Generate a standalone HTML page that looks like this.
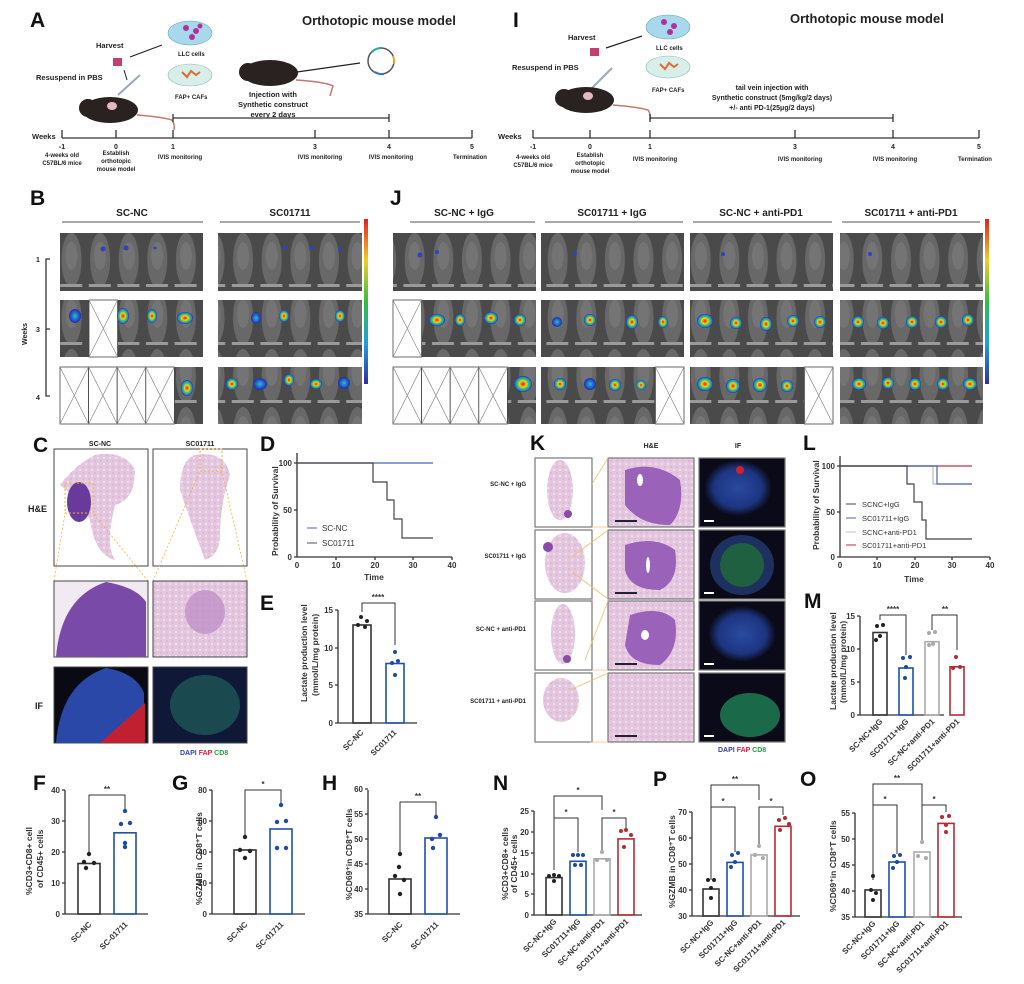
<!DOCTYPE html>
<html><head><meta charset="utf-8"><style>
body{margin:0;background:#fff}
svg{display:block;font-family:"Liberation Sans",Arial,sans-serif}
.L{font-size:21px;font-weight:bold;fill:#111}
.t{font-size:7px;font-weight:bold;fill:#222}
.s{font-size:6px;fill:#222;font-weight:bold}
.ax{stroke:#333;stroke-width:1.3;fill:none}
.tk{font-size:8px;fill:#333;font-weight:bold}
.yl{font-size:8.5px;fill:#333;font-weight:bold}
.hd{font-size:10px;font-weight:bold;fill:#222}
</style></head><body>
<svg width="1024" height="984" viewBox="0 0 1024 984">
<defs>
<pattern id="mice" width="28.6" height="58" patternUnits="userSpaceOnUse">
<rect width="28.6" height="58" fill="#4a4a4a"/>
<ellipse cx="14.3" cy="28" rx="10" ry="27" fill="#686868"/>
<ellipse cx="14.3" cy="24" rx="6" ry="14" fill="#747474"/>
<rect x="3" y="52" width="22" height="3" fill="#9a9a9a"/>
</pattern>
<linearGradient id="cb" x1="0" y1="0" x2="0" y2="1">
<stop offset="0" stop-color="#e02020"/><stop offset=".25" stop-color="#f0d020"/><stop offset=".5" stop-color="#30c040"/><stop offset=".75" stop-color="#20a0e0"/><stop offset="1" stop-color="#3030a0"/>
</linearGradient>
<radialGradient id="blob"><stop offset="0" stop-color="#e02020"/><stop offset=".4" stop-color="#f0d020"/><stop offset=".65" stop-color="#30c060"/><stop offset=".85" stop-color="#2080e0"/><stop offset="1" stop-color="#2a2aa0"/></radialGradient>
<radialGradient id="blobb"><stop offset="0" stop-color="#30c0c0"/><stop offset=".6" stop-color="#2060d0"/><stop offset="1" stop-color="#2a2aa0"/></radialGradient>
<pattern id="he" width="6" height="6" patternUnits="userSpaceOnUse"><rect width="6" height="6" fill="#e4c6df"/><circle cx="2" cy="2" r="1.2" fill="#eedfeb"/><circle cx="5" cy="5" r="0.7" fill="#cfa6cc"/></pattern>
<radialGradient id="ifg"><stop offset="0" stop-color="#2a4aa0"/><stop offset=".7" stop-color="#1d3580"/><stop offset="1" stop-color="#0a0a18"/></radialGradient>
<g id="x"><rect width="28.6" height="57" fill="#fff" stroke="#444" stroke-width=".8"/><path d="M0 0L28.6 57M28.6 0L0 57" stroke="#888" stroke-width=".7"/></g>
</defs>

<!-- ===== A ===== -->
<text class="L" x="30" y="27">A</text>
<text x="302" y="25" font-size="13" font-weight="bold" fill="#222">Orthotopic  mouse model</text>
<ellipse cx="190" cy="33" rx="22" ry="12" fill="#a8d8ec" stroke="#6aa" stroke-width=".6"/>
<circle cx="186" cy="28" r="3" fill="#b0309a"/><circle cx="196" cy="31" r="3" fill="#b0309a"/><circle cx="192" cy="37" r="3" fill="#b0309a"/><circle cx="200" cy="26" r="2.5" fill="#b0309a"/>
<text class="s" x="178" y="56">LLC cells</text>
<ellipse cx="190" cy="75" rx="22" ry="11" fill="#d8eee8" stroke="#8bb" stroke-width=".6"/>
<path d="M182 72l5 5 4-6 5 4 4-3" stroke="#e06a30" stroke-width="2" fill="none"/>
<text class="s" x="175" y="99">FAP+ CAFs</text>
<text x="96" y="48" font-size="7.5" font-weight="bold" fill="#222">Harvest</text>
<text x="36" y="80" font-size="7.5" font-weight="bold" fill="#222">Resuspend in PBS</text>
<rect x="113" y="58" width="9" height="8" fill="#c04070"/>
<line x1="130" y1="57" x2="162" y2="45" stroke="#222" stroke-width="1.2"/>
<line x1="124" y1="70" x2="127" y2="80" stroke="#222"/>
<line x1="118" y1="95" x2="140" y2="75" stroke="#9ab" stroke-width="2"/>
<ellipse cx="110" cy="110" rx="28" ry="13" fill="#2a2220"/><circle cx="88" cy="108" r="9" fill="#2a2220"/><ellipse cx="112" cy="106" rx="5" ry="4" fill="#e8b8c0"/>
<path d="M137 115q25 2 35 5q3 4 2 10" stroke="#c47870" stroke-width="1.5" fill="none"/>
<ellipse cx="270" cy="73" rx="28" ry="13" fill="#2a2220"/><circle cx="248" cy="72" r="9" fill="#2a2220"/>
<path d="M296 80q30 2 37 6q-2 6 -3 10" stroke="#c47870" stroke-width="1.5" fill="none"/>
<line x1="297" y1="72" x2="360" y2="63" stroke="#222" stroke-width="1.2"/>
<circle cx="381" cy="61" r="13" fill="none" stroke="#555" stroke-width="1.5"/>
<path d="M372 52a13 13 0 0 1 10-4" stroke="#2a9" stroke-width="2" fill="none"/><path d="M393 56a13 13 0 0 1 1 8" stroke="#da3" stroke-width="2" fill="none"/><path d="M384 74a13 13 0 0 1-9-2" stroke="#37c" stroke-width="2" fill="none"/>
<text x="273" y="97" font-size="7.5" font-weight="bold" fill="#222" text-anchor="middle">Injection with</text>
<text x="273" y="107" font-size="7.5" font-weight="bold" fill="#222" text-anchor="middle">Synthetic construct</text>
<text x="273" y="117" font-size="7.5" font-weight="bold" fill="#222" text-anchor="middle">every 2 days</text>
<path class="ax" d="M173 118H389M173 114v8M389 114v8"/>
<text x="32" y="139" font-size="7.5" font-weight="bold" fill="#222">Weeks</text>
<path class="ax" d="M62 138H472M62 130v8M116 130v8M173 130v8M315 130v8M389 130v8M472 130v8"/>
<g class="t" text-anchor="middle"><text x="62" y="149">-1</text><text x="116" y="149">0</text><text x="173" y="149">1</text><text x="315" y="149">3</text><text x="389" y="149">4</text><text x="472" y="149">5</text></g>
<g class="s" text-anchor="middle"><text x="62" y="157">4-weeks old</text><text x="62" y="165">C57BL/6 mice</text><text x="116" y="155">Establish</text><text x="116" y="163">orthotopic</text><text x="116" y="171">mouse model</text><text x="180" y="159">IVIS monitoring</text><text x="320" y="159">IVIS monitoring</text><text x="391" y="159">IVIS monitoring</text><text x="470" y="159">Termination</text></g>

<!-- ===== I ===== -->
<text class="L" x="513" y="27">I</text>
<text x="790" y="23" font-size="13" font-weight="bold" fill="#222">Orthotopic  mouse model</text>
<ellipse cx="668" cy="27" rx="22" ry="12" fill="#a8d8ec" stroke="#6aa" stroke-width=".6"/>
<circle cx="664" cy="22" r="3" fill="#b0309a"/><circle cx="674" cy="26" r="3" fill="#b0309a"/><circle cx="670" cy="32" r="3" fill="#b0309a"/>
<text class="s" x="656" y="50">LLC cells</text>
<ellipse cx="668" cy="67" rx="22" ry="11" fill="#d8eee8" stroke="#8bb" stroke-width=".6"/>
<path d="M660 64l5 5 4-6 5 4 4-3" stroke="#e06a30" stroke-width="2" fill="none"/>
<text class="s" x="652" y="92">FAP+ CAFs</text>
<text x="568" y="40" font-size="7.5" font-weight="bold" fill="#222">Harvest</text>
<text x="512" y="70" font-size="7.5" font-weight="bold" fill="#222">Resuspend in PBS</text>
<rect x="590" y="48" width="9" height="8" fill="#c04070"/>
<line x1="606" y1="48" x2="642" y2="36" stroke="#222" stroke-width="1.2"/>
<line x1="592" y1="88" x2="612" y2="68" stroke="#9ab" stroke-width="2"/>
<ellipse cx="586" cy="100" rx="28" ry="13" fill="#2a2220"/><circle cx="564" cy="98" r="9" fill="#2a2220"/><ellipse cx="588" cy="96" rx="5" ry="4" fill="#e8b8c0"/>
<path d="M613 105q25 2 35 5q3 4 2 10" stroke="#c47870" stroke-width="1.5" fill="none"/>
<g font-size="7" font-weight="bold" fill="#222" text-anchor="middle"><text x="772" y="90">tail vein injection with</text><text x="772" y="100">Synthetic construct (5mg/kg/2 days)</text><text x="772" y="110">+/- anti PD-1(25μg/2 days)</text></g>
<path class="ax" d="M650 118H893M650 114v8M893 114v8"/>
<text x="498" y="139" font-size="7.5" font-weight="bold" fill="#222">Weeks</text>
<path class="ax" d="M533 138H979M533 130v8M590 130v8M650 130v8M795 130v8M893 130v8M979 130v8"/>
<g class="t" text-anchor="middle"><text x="533" y="149">-1</text><text x="590" y="149">0</text><text x="650" y="149">1</text><text x="795" y="149">3</text><text x="893" y="149">4</text><text x="979" y="149">5</text></g>
<g class="s" text-anchor="middle"><text x="533" y="159">4-weeks old</text><text x="533" y="167">C57BL/6 mice</text><text x="590" y="157">Establish</text><text x="590" y="165">orthotopic</text><text x="590" y="173">mouse model</text><text x="655" y="161">IVIS monitoring</text><text x="800" y="161">IVIS monitoring</text><text x="895" y="161">IVIS monitoring</text><text x="975" y="161">Termination</text></g>

<!-- ===== B ===== -->
<text class="L" x="30" y="205">B</text>
<text class="hd" x="132" y="216" text-anchor="middle">SC-NC</text><line x1="62" y1="222" x2="203" y2="222" stroke="#555"/>
<text class="hd" x="290" y="216" text-anchor="middle">SC01711</text><line x1="220" y1="222" x2="360" y2="222" stroke="#555"/>
<rect x="364" y="219" width="4" height="165" fill="url(#cb)"/>
<rect x="60" y="233" width="143" height="58" fill="url(#mice)"/>
<rect x="60" y="300" width="143" height="57" fill="url(#mice)"/>
<rect x="60" y="367" width="143" height="57" fill="url(#mice)"/>
<rect x="218" y="233" width="144" height="58" fill="url(#mice)"/>
<rect x="218" y="300" width="144" height="57" fill="url(#mice)"/>
<rect x="218" y="367" width="144" height="57" fill="url(#mice)"/>
<use href="#x" x="89" y="300"/>
<use href="#x" x="60" y="367"/><use href="#x" x="88.6" y="367"/><use href="#x" x="117.2" y="367"/><use href="#x" x="145.8" y="367"/>
<g fill="url(#blob)"><ellipse cx="75" cy="316" rx="6" ry="7" fill="url(#blobb)"/><ellipse cx="123" cy="316" rx="6" ry="8"/><ellipse cx="152" cy="316" rx="5" ry="7"/><ellipse cx="185" cy="318" rx="8" ry="6"/><ellipse cx="187" cy="388" rx="6" ry="8"/>
<ellipse cx="256" cy="318" rx="5" ry="6" fill="url(#blobb)"/><ellipse cx="284" cy="316" rx="5" ry="6"/><ellipse cx="340" cy="316" rx="5" ry="6"/>
<ellipse cx="232" cy="384" rx="6" ry="6"/><ellipse cx="260" cy="384" rx="7" ry="6" fill="url(#blobb)"/><ellipse cx="289" cy="380" rx="5" ry="6"/><ellipse cx="316" cy="384" rx="6" ry="5"/><ellipse cx="344" cy="383" rx="6" ry="6" fill="url(#blobb)"/></g>
<g fill="#3040c0"><circle cx="103" cy="249" r="2.5"/><circle cx="126" cy="248" r="2.5"/><circle cx="155" cy="248" r="1.5"/><circle cx="285" cy="248" r="2"/><circle cx="311" cy="248" r="2"/><circle cx="340" cy="249" r="2"/></g>
<path class="ax" d="M50 259H46V396H50M46 329H50" stroke-width="1"/>
<g class="t" font-size="9"><text x="36" y="262">1</text><text x="36" y="332">3</text><text x="36" y="400">4</text></g>
<text x="27" y="345" class="t" font-size="9" transform="rotate(-90 27 345)">Weeks</text>

<!-- ===== J ===== -->
<text class="L" x="390" y="205">J</text>
<g class="hd" text-anchor="middle"><text x="464" y="216">SC-NC + IgG</text><text x="612" y="216">SC01711 + IgG</text><text x="761" y="216">SC-NC + anti-PD1</text><text x="911" y="216">SC01711 + anti-PD1</text></g>
<g stroke="#555"><line x1="410" y1="222" x2="535" y2="222"/><line x1="545" y1="222" x2="683" y2="222"/><line x1="693" y1="222" x2="832" y2="222"/><line x1="842" y1="222" x2="980" y2="222"/></g>
<rect x="985" y="219" width="4" height="165" fill="url(#cb)"/>
<g fill="url(#mice)">
<rect x="393" y="233" width="143" height="58"/><rect x="393" y="300" width="143" height="57"/><rect x="393" y="367" width="143" height="57"/>
<rect x="541" y="233" width="143" height="58"/><rect x="541" y="300" width="143" height="57"/><rect x="541" y="367" width="143" height="57"/>
<rect x="690" y="233" width="143" height="58"/><rect x="690" y="300" width="143" height="57"/><rect x="690" y="367" width="143" height="57"/>
<rect x="840" y="233" width="143" height="58"/><rect x="840" y="300" width="143" height="57"/><rect x="840" y="367" width="143" height="57"/></g>
<use href="#x" x="393" y="300"/>
<use href="#x" x="393" y="367"/><use href="#x" x="421.6" y="367"/><use href="#x" x="450.2" y="367"/><use href="#x" x="478.8" y="367"/>
<use href="#x" x="655.4" y="367"/><use href="#x" x="804.4" y="367"/>
<g fill="url(#blob)">
<ellipse cx="437" cy="320" rx="8" ry="6"/><ellipse cx="460" cy="320" rx="5" ry="6"/><ellipse cx="491" cy="318" rx="7" ry="6"/><ellipse cx="520" cy="320" rx="6" ry="6"/><ellipse cx="523" cy="384" rx="9" ry="8"/>
<ellipse cx="557" cy="322" rx="5" ry="5" fill="url(#blobb)"/><ellipse cx="590" cy="320" rx="6" ry="6"/><ellipse cx="632" cy="322" rx="6" ry="7"/><ellipse cx="663" cy="322" rx="5" ry="6"/>
<ellipse cx="560" cy="384" rx="6" ry="6"/><ellipse cx="590" cy="384" rx="6" ry="6" fill="url(#blobb)"/><ellipse cx="615" cy="385" rx="6" ry="6"/><ellipse cx="641" cy="385" rx="5" ry="5"/>
<ellipse cx="705" cy="321" rx="8" ry="7"/><ellipse cx="736" cy="323" rx="6" ry="6"/><ellipse cx="766" cy="324" rx="6" ry="7"/><ellipse cx="793" cy="321" rx="6" ry="6"/><ellipse cx="820" cy="322" rx="6" ry="6"/>
<ellipse cx="705" cy="384" rx="8" ry="7"/><ellipse cx="733" cy="386" rx="7" ry="7"/><ellipse cx="760" cy="385" rx="7" ry="7"/><ellipse cx="787" cy="386" rx="6" ry="6"/>
<ellipse cx="858" cy="322" rx="6" ry="6"/><ellipse cx="883" cy="323" rx="6" ry="6"/><ellipse cx="912" cy="322" rx="6" ry="6"/><ellipse cx="941" cy="322" rx="6" ry="6"/><ellipse cx="968" cy="320" rx="6" ry="6"/>
<ellipse cx="859" cy="384" rx="7" ry="6"/><ellipse cx="888" cy="383" rx="6" ry="6"/><ellipse cx="915" cy="384" rx="6" ry="6"/><ellipse cx="943" cy="384" rx="6" ry="6"/><ellipse cx="970" cy="384" rx="7" ry="6"/></g>
<g fill="#3040c0"><circle cx="420" cy="255" r="2.5"/><circle cx="437" cy="252" r="2"/><circle cx="575" cy="254" r="2"/><circle cx="723" cy="254" r="2"/><circle cx="870" cy="254" r="2"/></g>

<!-- ===== C ===== -->
<text class="L" x="33" y="452">C</text>
<text x="100" y="446" class="t" text-anchor="middle">SC-NC</text><text x="200" y="446" class="t" text-anchor="middle">SC01711</text>
<text x="28" y="512" font-size="9" font-weight="bold" fill="#222">H&amp;E</text>
<text x="35" y="709" font-size="9" font-weight="bold" fill="#222">IF</text>
<rect x="54" y="449" width="94" height="117" fill="#fff" stroke="#444"/>
<rect x="153" y="449" width="94" height="117" fill="#fff" stroke="#444"/>
<path d="M95 455q30-5 40 15q0 30-20 35q-10 40 0 55q-20-5-25-40q-10-20-30-35q15-20 35-30z" fill="url(#he)"/>
<ellipse cx="79" cy="502" rx="12" ry="20" fill="#6a3a9a"/>
<path d="M195 455q30-5 35 20q-10 30-10 60q0 20-15 25q-15-40-25-70q0-30 15-35z" fill="url(#he)"/>
<rect x="65" y="483" width="28" height="30" fill="none" stroke="#f0b040" stroke-dasharray="2 2"/>
<rect x="200" y="449" width="22" height="22" fill="none" stroke="#f0b040" stroke-dasharray="2 2"/>
<path d="M54 581L65 513M148 581L93 513M153 581L200 471M247 581L222 471" stroke="#f0b040" stroke-dasharray="2 2" stroke-width=".8"/>
<rect x="54" y="581" width="94" height="76" fill="#f2eaf2" stroke="#444"/>
<path d="M56 657q5-60 50-75q30 5 40 20v55z" fill="#7a4aa8"/>
<rect x="153" y="581" width="94" height="76" fill="url(#he)" stroke="#444"/>
<ellipse cx="205" cy="612" rx="20" ry="22" fill="#c090c8" opacity=".8"/>
<rect x="54" y="667" width="94" height="76" fill="#0a0a14" stroke="#444"/>
<path d="M56 743q5-60 50-75q30 5 38 25v50z" fill="#2a48a8"/><path d="M100 743l45-40v40z" fill="#c02030"/>
<rect x="153" y="667" width="94" height="76" fill="#101838" stroke="#444"/>
<ellipse cx="205" cy="705" rx="35" ry="30" fill="#1a4a50"/>
<text x="180" y="755" font-size="7" font-weight="bold"><tspan fill="#3040b0">DAPI</tspan> <tspan fill="#e02040">FAP</tspan> <tspan fill="#20a040">CD8</tspan></text>

<!-- ===== D ===== -->
<text class="L" x="260" y="451">D</text>
<path class="ax" d="M297 453V557H452M294 463h3M294 510h3M294 557h3M336 557v3M375 557v3M413 557v3M452 557v3"/>
<g class="tk" text-anchor="end"><text x="292" y="466">100</text><text x="292" y="513">50</text><text x="292" y="560">0</text></g>
<g class="tk" text-anchor="middle"><text x="297" y="568">0</text><text x="336" y="568">10</text><text x="375" y="568">20</text><text x="413" y="568">30</text><text x="452" y="568">40</text></g>
<text x="374" y="580" class="yl" text-anchor="middle">Time</text>
<text x="278" y="556" class="yl" transform="rotate(-90 278 556)">Probability of Survival</text>
<path d="M297 463H433" stroke="#4a64b0" stroke-width="1.2" fill="none"/>
<path d="M297 463H373V482H387V500H394V519H402V538H433" stroke="#444" stroke-width="1.2" fill="none"/>
<line x1="307" y1="528" x2="317" y2="528" stroke="#4a64b0"/><text x="322" y="531" font-size="8" fill="#333">SC-NC</text>
<line x1="307" y1="543" x2="317" y2="543" stroke="#555"/><text x="322" y="546" font-size="8" fill="#333">SC01711</text>

<!-- ===== E ===== -->
<text class="L" x="260" y="610">E</text>
<path class="ax" d="M338 610V723H417M335 610h3M335 648h3M335 685h3M335 723h3"/>
<g class="tk" text-anchor="end"><text x="333" y="613">15</text><text x="333" y="651">10</text><text x="333" y="688">5</text><text x="333" y="726">0</text></g>
<rect x="353" y="625" width="18" height="98" fill="none" stroke="#333" stroke-width="1.6"/>
<rect x="386" y="663.5" width="18" height="59.5" fill="none" stroke="#2050a8" stroke-width="1.6"/>
<path d="M362 612V603H395V645" stroke="#333" fill="none"/><text x="378" y="600" class="tk" text-anchor="middle">****</text>
<g fill="#222"><circle cx="361" cy="617" r="2"/><circle cx="358" cy="625" r="2"/><circle cx="365" cy="627" r="2"/><circle cx="367" cy="621" r="2"/></g>
<g fill="#1f4aa0"><circle cx="395" cy="652" r="2"/><circle cx="392" cy="663" r="2"/><circle cx="398" cy="661" r="2"/><circle cx="395" cy="675" r="2"/></g>
<text x="307" y="702" class="yl" transform="rotate(-90 307 702)">Lactate production level</text>
<text x="318" y="696" class="yl" transform="rotate(-90 318 696)">(mmol/L/mg protein)</text>
<g class="tk" text-anchor="end"><text x="364" y="733" transform="rotate(-45 364 733)">SC-NC</text><text x="397" y="733" transform="rotate(-45 397 733)">SC01711</text></g>

<!-- ===== F ===== -->
<text class="L" x="33" y="790">F</text>
<path class="ax" d="M65 790V914H148M62 790h3M62 821h3M62 852h3M62 883h3M62 914h3"/>
<g class="tk" text-anchor="end"><text x="60" y="793">40</text><text x="60" y="824">30</text><text x="60" y="855">20</text><text x="60" y="886">10</text><text x="60" y="917">0</text></g>
<rect x="78" y="863.5" width="22" height="50.5" fill="none" stroke="#333" stroke-width="1.6"/>
<rect x="114" y="832.8" width="22" height="81.2" fill="none" stroke="#2050a8" stroke-width="1.6"/>
<path d="M89 852V795H125V812" stroke="#333" fill="none"/><text x="107" y="792" class="tk" text-anchor="middle">**</text>
<g fill="#222"><circle cx="89" cy="854" r="2.2"/><circle cx="84" cy="862" r="2.2"/><circle cx="94" cy="863" r="2.2"/><circle cx="86" cy="868" r="2.2"/></g>
<g fill="#1f4aa0"><circle cx="125" cy="811" r="2.2"/><circle cx="121" cy="824" r="2.2"/><circle cx="130" cy="823" r="2.2"/><circle cx="125" cy="843" r="2.2"/><circle cx="125" cy="847" r="2.2"/></g>
<text x="32" y="895" class="yl" transform="rotate(-90 32 895)">%CD3+CD8+ cell</text>
<text x="43" y="888" class="yl" transform="rotate(-90 43 888)">of CD45+ cells</text>
<g class="tk" text-anchor="end"><text x="92" y="925" transform="rotate(-45 92 925)">SC-NC</text><text x="128" y="925" transform="rotate(-45 128 925)">SC-01711</text></g>

<!-- ===== G ===== -->
<text class="L" x="172" y="790">G</text>
<path class="ax" d="M212 790V914H305M209 790h3M209 821h3M209 852h3M209 883h3M209 914h3"/>
<g class="tk" text-anchor="end"><text x="207" y="793">80</text><text x="207" y="824">60</text><text x="207" y="855">40</text><text x="207" y="886">20</text><text x="207" y="917">0</text></g>
<rect x="234" y="850" width="22" height="64" fill="none" stroke="#333" stroke-width="1.6"/>
<rect x="270" y="829" width="22" height="85" fill="none" stroke="#2050a8" stroke-width="1.6"/>
<path d="M245 838V790H281V805" stroke="#333" fill="none"/><text x="263" y="787" class="tk" text-anchor="middle">*</text>
<g fill="#222"><circle cx="245" cy="837" r="2.2"/><circle cx="240" cy="850" r="2.2"/><circle cx="250" cy="851" r="2.2"/><circle cx="245" cy="858" r="2.2"/></g>
<g fill="#1f4aa0"><circle cx="281" cy="805" r="2.2"/><circle cx="277" cy="822" r="2.2"/><circle cx="286" cy="821" r="2.2"/><circle cx="277" cy="848" r="2.2"/><circle cx="286" cy="848" r="2.2"/></g>
<text x="202" y="905" class="yl" transform="rotate(-90 202 905)">%GZMB in CD8⁺T cells</text>
<g class="tk" text-anchor="end"><text x="248" y="925" transform="rotate(-45 248 925)">SC-NC</text><text x="284" y="925" transform="rotate(-45 284 925)">SC-01711</text></g>

<!-- ===== H ===== -->
<text class="L" x="322" y="790">H</text>
<path class="ax" d="M368 790V914H460M365 789h3M365 814h3M365 839h3M365 864h3M365 889h3M365 914h3"/>
<g class="tk" text-anchor="end"><text x="363" y="792">60</text><text x="363" y="817">55</text><text x="363" y="842">50</text><text x="363" y="867">45</text><text x="363" y="892">40</text><text x="363" y="917">35</text></g>
<rect x="389" y="879" width="22" height="35" fill="none" stroke="#333" stroke-width="1.6"/>
<rect x="425" y="838" width="22" height="76" fill="none" stroke="#2050a8" stroke-width="1.6"/>
<path d="M400 855V802H436V815" stroke="#333" fill="none"/><text x="418" y="799" class="tk" text-anchor="middle">**</text>
<g fill="#222"><circle cx="400" cy="854" r="2.2"/><circle cx="399" cy="867" r="2.2"/><circle cx="395" cy="876" r="2.2"/><circle cx="404" cy="880" r="2.2"/><circle cx="400" cy="894" r="2.2"/></g>
<g fill="#1f4aa0"><circle cx="436" cy="817" r="2.2"/><circle cx="432" cy="839" r="2.2"/><circle cx="440" cy="835" r="2.2"/><circle cx="433" cy="848" r="2.2"/></g>
<text x="352" y="900" class="yl" transform="rotate(-90 352 900)">%CD69⁺in CD8⁺T cells</text>
<g class="tk" text-anchor="end"><text x="403" y="925" transform="rotate(-45 403 925)">SC-NC</text><text x="439" y="925" transform="rotate(-45 439 925)">SC-01711</text></g>

<!-- ===== K ===== -->
<text class="L" x="530" y="450">K</text>
<text x="651" y="448" class="t" font-size="8" text-anchor="middle">H&amp;E</text><text x="738" y="448" class="t" font-size="8" text-anchor="middle">IF</text>
<g class="s" text-anchor="end"><text x="526" y="486">SC-NC + IgG</text><text x="526" y="558">SC01711 + IgG</text><text x="526" y="631">SC-NC + anti-PD1</text><text x="526" y="703">SC01711 + anti-PD1</text></g>
<g stroke="#777" stroke-width="1.2">
<rect x="535" y="458" width="57" height="69" fill="#fff"/><rect x="535" y="530" width="57" height="69" fill="#fff"/><rect x="535" y="601" width="57" height="69" fill="#fff"/><rect x="535" y="673" width="57" height="69" fill="#fff"/>
<rect x="608" y="458" width="86" height="69" fill="url(#he)"/><rect x="608" y="530" width="86" height="69" fill="url(#he)"/><rect x="608" y="601" width="86" height="69" fill="url(#he)"/><rect x="608" y="673" width="86" height="69" fill="url(#he)"/>
<rect x="699" y="458" width="86" height="69" fill="#0a0a18"/><rect x="699" y="530" width="86" height="69" fill="#0a0a18"/><rect x="699" y="601" width="86" height="69" fill="#0a0a18"/><rect x="699" y="673" width="86" height="69" fill="#0a0a18"/></g>
<g fill="url(#he)"><ellipse cx="560" cy="490" rx="13" ry="30"/><ellipse cx="565" cy="563" rx="20" ry="30"/><ellipse cx="563" cy="634" rx="12" ry="30"/><ellipse cx="561" cy="700" rx="18" ry="22"/></g>
<g fill="#8a4aa8"><circle cx="568" cy="514" r="4"/><circle cx="548" cy="547" r="5"/><circle cx="567" cy="659" r="4"/></g>
<g fill="#9a62b8"><path d="M625 470q30-10 55 10q5 30-10 45q-30 0-45-20z"/><path d="M625 545q30-10 50 5q5 30-15 40q-30 0-35-20z"/><path d="M630 615q30-10 45 5q5 30-15 45q-30 0-35-20z"/></g>
<g fill="#fff"><ellipse cx="640" cy="480" rx="3" ry="6"/><ellipse cx="648" cy="565" rx="2" ry="8"/><ellipse cx="645" cy="635" rx="4" ry="5"/></g>
<g fill="#223" ><rect x="615" y="520" width="22" height="2"/><rect x="615" y="592" width="22" height="2"/><rect x="615" y="663" width="22" height="2"/><rect x="615" y="735" width="22" height="2"/></g>
<ellipse cx="738" cy="488" rx="34" ry="28" fill="url(#ifg)"/><circle cx="740" cy="470" r="4" fill="#d02030"/>
<ellipse cx="742" cy="565" rx="32" ry="30" fill="#1e3060"/><ellipse cx="742" cy="565" rx="22" ry="22" fill="#1f6040"/>
<ellipse cx="742" cy="634" rx="34" ry="28" fill="url(#ifg)"/>
<ellipse cx="750" cy="715" rx="30" ry="22" fill="#1a6a4a"/>
<g fill="#fff"><rect x="704" y="520" width="10" height="2"/><rect x="704" y="592" width="10" height="2"/><rect x="704" y="663" width="10" height="2"/><rect x="704" y="735" width="10" height="2"/></g>
<path d="M592 484L608 458M592 527L608 527M572 557L608 530M572 572L608 599M585 660L608 601M592 670L608 670M570 690L608 673M590 742L608 742" stroke="#f0c070" stroke-width=".8"/>
<text x="718" y="752" font-size="7" font-weight="bold"><tspan fill="#3040b0">DAPI</tspan> <tspan fill="#e02040">FAP</tspan> <tspan fill="#20a040">CD8</tspan></text>

<!-- ===== L ===== -->
<text class="L" x="803" y="450">L</text>
<path class="ax" d="M840 456V557H990M837 466h3M837 512h3M837 557h3M877 557v3M915 557v3M952 557v3M990 557v3"/>
<g class="tk" text-anchor="end"><text x="835" y="469">100</text><text x="835" y="515">50</text><text x="835" y="560">0</text></g>
<g class="tk" text-anchor="middle"><text x="840" y="568">0</text><text x="877" y="568">10</text><text x="915" y="568">20</text><text x="952" y="568">30</text><text x="990" y="568">40</text></g>
<text x="914" y="582" class="yl" text-anchor="middle">Time</text>
<text x="819" y="550" class="yl" transform="rotate(-90 819 550)">Probability of Survival</text>
<path d="M840 466H972" stroke="#c03040" stroke-width="1.2" fill="none"/>
<path d="M840 466H933V484H972" stroke="#bbb" stroke-width="1.2" fill="none"/>
<path d="M840 466H937V484H972" stroke="#4a64b0" stroke-width="1.2" fill="none"/>
<path d="M840 466H907V484H914V502H922V520H926V539H972" stroke="#444" stroke-width="1.2" fill="none"/>
<g font-size="7.5" fill="#333"><line x1="846" y1="504" x2="856" y2="504" stroke="#444"/><text x="862" y="507">SCNC+IgG</text>
<line x1="846" y1="518" x2="856" y2="518" stroke="#4a64b0"/><text x="862" y="521">SC01711+IgG</text>
<line x1="846" y1="532" x2="856" y2="532" stroke="#bbb"/><text x="862" y="535">SCNC+anti-PD1</text>
<line x1="846" y1="545" x2="856" y2="545" stroke="#c03040"/><text x="862" y="548">SC01711+anti-PD1</text></g>

<!-- ===== M ===== -->
<text class="L" x="804" y="608">M</text>
<path class="ax" d="M860 616V715H944M857 616h3M857 649h3M857 682h3M857 715h3"/>
<g class="tk" text-anchor="end"><text x="855" y="619">15</text><text x="855" y="652">10</text><text x="855" y="685">5</text><text x="855" y="718">0</text></g>
<rect x="873" y="632.5" width="14" height="82.5" fill="none" stroke="#333" stroke-width="1.6"/>
<rect x="899" y="668" width="14" height="47" fill="none" stroke="#2050a8" stroke-width="1.6"/>
<rect x="925" y="641.7" width="14" height="73.3" fill="none" stroke="#aaa" stroke-width="1.6"/>
<rect x="950" y="666.8" width="14" height="48.2" fill="none" stroke="#b52a35" stroke-width="1.6"/>
<path d="M880 620V615H906V655M932 630V615H957V650" stroke="#333" fill="none"/>
<text x="893" y="612" class="tk" text-anchor="middle">****</text><text x="945" y="612" class="tk" text-anchor="middle">**</text>
<g fill="#222"><circle cx="877" cy="626" r="2"/><circle cx="883" cy="625" r="2"/><circle cx="880" cy="636" r="2"/><circle cx="876" cy="640" r="2"/></g>
<g fill="#1f4aa0"><circle cx="903" cy="658" r="2"/><circle cx="910" cy="657" r="2"/><circle cx="906" cy="667" r="2"/><circle cx="905" cy="678" r="2"/></g>
<g fill="#aaa"><circle cx="929" cy="633" r="2"/><circle cx="935" cy="632" r="2"/><circle cx="933" cy="644" r="2"/><circle cx="929" cy="645" r="2"/></g>
<g fill="#b52a35"><circle cx="956" cy="657" r="2"/><circle cx="953" cy="668" r="2"/><circle cx="960" cy="667" r="2"/></g>
<text x="836" y="710" class="yl" font-size="7.5" transform="rotate(-90 836 710)">Lactate production level</text>
<text x="846" y="703" class="yl" font-size="7.5" transform="rotate(-90 846 703)">(mmol/L/mg protein)</text>
<g class="tk" font-size="7" text-anchor="end"><text x="883" y="722" transform="rotate(-45 883 722)">SC-NC+IgG</text><text x="909" y="722" transform="rotate(-45 909 722)">SC01711+IgG</text><text x="935" y="722" transform="rotate(-45 935 722)">SC-NC+anti-PD1</text><text x="960" y="722" transform="rotate(-45 960 722)">SC01711+anti-PD1</text></g>

<!-- ===== N ===== -->
<text class="L" x="493" y="790">N</text>
<path class="ax" d="M534 811V915H642M531 811h3M531 832h3M531 853h3M531 874h3M531 894h3M531 915h3"/>
<g class="tk" font-size="7" text-anchor="end"><text x="529" y="814">25</text><text x="529" y="835">20</text><text x="529" y="856">15</text><text x="529" y="877">10</text><text x="529" y="897">5</text><text x="529" y="918">0</text></g>
<rect x="546" y="877.6" width="16" height="37.4" fill="none" stroke="#333" stroke-width="1.6"/>
<rect x="570" y="861.3" width="16" height="53.7" fill="none" stroke="#2050a8" stroke-width="1.6"/>
<rect x="594" y="858.8" width="16" height="56.2" fill="none" stroke="#aaa" stroke-width="1.6"/>
<rect x="618" y="838.9" width="16" height="76.1" fill="none" stroke="#b52a35" stroke-width="1.6"/>
<path d="M554 870V818H578V852M554 818V796H602V810M602 850V818H626V828" stroke="#333" fill="none"/>
<g class="tk" text-anchor="middle"><text x="566" y="815">*</text><text x="578" y="793">*</text><text x="614" y="815">*</text></g>
<g fill="#222"><circle cx="549" cy="876" r="2"/><circle cx="554" cy="875" r="2"/><circle cx="559" cy="876" r="2"/><circle cx="554" cy="881" r="2"/></g>
<g fill="#1f4aa0"><circle cx="573" cy="855" r="2"/><circle cx="578" cy="855" r="2"/><circle cx="583" cy="855" r="2"/><circle cx="575" cy="865" r="2"/><circle cx="581" cy="865" r="2"/></g>
<g fill="#aaa"><circle cx="602" cy="852" r="2"/><circle cx="597" cy="860" r="2"/><circle cx="607" cy="860" r="2"/></g>
<g fill="#b52a35"><circle cx="621" cy="831" r="2"/><circle cx="626" cy="830" r="2"/><circle cx="631" cy="835" r="2"/><circle cx="624" cy="847" r="2"/></g>
<text x="508" y="900" class="yl" font-size="7.5" transform="rotate(-90 508 900)">%CD3+CD8+ cells</text>
<text x="517" y="893" class="yl" font-size="7.5" transform="rotate(-90 517 893)">of CD45+ cells</text>
<g class="tk" font-size="7" text-anchor="end"><text x="557" y="922" transform="rotate(-45 557 922)">SC-NC+IgG</text><text x="581" y="922" transform="rotate(-45 581 922)">SC01711+IgG</text><text x="605" y="922" transform="rotate(-45 605 922)">SC-NC+anti-PD1</text><text x="629" y="922" transform="rotate(-45 629 922)">SC01711+anti-PD1</text></g>

<!-- ===== P ===== -->
<text class="L" x="653" y="786">P</text>
<path class="ax" d="M692 812V916H800M689 812h3M689 838h3M689 864h3M689 890h3M689 916h3"/>
<g class="tk" font-size="7" text-anchor="end"><text x="687" y="815">70</text><text x="687" y="841">60</text><text x="687" y="867">50</text><text x="687" y="893">40</text><text x="687" y="919">30</text></g>
<rect x="703" y="889" width="16" height="27" fill="none" stroke="#333" stroke-width="1.6"/>
<rect x="727" y="862.4" width="16" height="53.6" fill="none" stroke="#2050a8" stroke-width="1.6"/>
<rect x="751" y="854.9" width="16" height="61.1" fill="none" stroke="#aaa" stroke-width="1.6"/>
<rect x="775" y="826.3" width="16" height="89.7" fill="none" stroke="#b52a35" stroke-width="1.6"/>
<path d="M711 880V807H735V852M711 807V785H759V800M759 848V807H783V815" stroke="#333" fill="none"/>
<g class="tk" text-anchor="middle"><text x="723" y="804">*</text><text x="735" y="782">**</text><text x="771" y="804">*</text></g>
<g fill="#222"><circle cx="708" cy="880" r="2"/><circle cx="714" cy="880" r="2"/><circle cx="711" cy="888" r="2"/><circle cx="711" cy="898" r="2"/></g>
<g fill="#1f4aa0"><circle cx="732" cy="855" r="2"/><circle cx="738" cy="853" r="2"/><circle cx="735" cy="862" r="2"/><circle cx="731" cy="867" r="2"/></g>
<g fill="#aaa"><circle cx="759" cy="846" r="2"/><circle cx="755" cy="855" r="2"/><circle cx="763" cy="858" r="2"/></g>
<g fill="#b52a35"><circle cx="779" cy="820" r="2"/><circle cx="785" cy="818" r="2"/><circle cx="789" cy="824" r="2"/><circle cx="780" cy="830" r="2"/></g>
<text x="675" y="908" class="yl" font-size="7.5" transform="rotate(-90 675 908)">%GZMB in CD8⁺T cells</text>
<g class="tk" font-size="7" text-anchor="end"><text x="714" y="923" transform="rotate(-45 714 923)">SC-NC+IgG</text><text x="738" y="923" transform="rotate(-45 738 923)">SC01711+IgG</text><text x="762" y="923" transform="rotate(-45 762 923)">SC-NC+anti-PD1</text><text x="786" y="923" transform="rotate(-45 786 923)">SC01711+anti-PD1</text></g>

<!-- ===== O ===== -->
<text class="L" x="800" y="786">O</text>
<path class="ax" d="M855 813V917H962M852 813h3M852 839h3M852 865h3M852 891h3M852 917h3"/>
<g class="tk" font-size="7" text-anchor="end"><text x="850" y="816">55</text><text x="850" y="842">50</text><text x="850" y="868">45</text><text x="850" y="894">40</text><text x="850" y="920">35</text></g>
<rect x="865" y="890" width="16" height="27" fill="none" stroke="#333" stroke-width="1.6"/>
<rect x="889" y="862" width="16" height="55" fill="none" stroke="#2050a8" stroke-width="1.6"/>
<rect x="914" y="852" width="16" height="65" fill="none" stroke="#aaa" stroke-width="1.6"/>
<rect x="938" y="823.4" width="16" height="93.6" fill="none" stroke="#b52a35" stroke-width="1.6"/>
<path d="M873 880V805H897V854M873 805V784H922V840M922 840V805H946V812" stroke="#333" fill="none"/>
<g class="tk" text-anchor="middle"><text x="885" y="802">*</text><text x="897" y="781">**</text><text x="934" y="802">*</text></g>
<g fill="#222"><circle cx="873" cy="876" r="2"/><circle cx="871" cy="890" r="2"/><circle cx="876" cy="893" r="2"/><circle cx="873" cy="900" r="2"/></g>
<g fill="#1f4aa0"><circle cx="894" cy="856" r="2"/><circle cx="900" cy="855" r="2"/><circle cx="897" cy="862" r="2"/><circle cx="893" cy="868" r="2"/></g>
<g fill="#aaa"><circle cx="922" cy="842" r="2"/><circle cx="918" cy="856" r="2"/><circle cx="926" cy="858" r="2"/></g>
<g fill="#b52a35"><circle cx="942" cy="817" r="2"/><circle cx="949" cy="816" r="2"/><circle cx="946" cy="825" r="2"/><circle cx="946" cy="832" r="2"/></g>
<text x="836" y="912" class="yl" font-size="7.5" transform="rotate(-90 836 912)">%CD69⁺in CD8⁺T cells</text>
<g class="tk" font-size="7" text-anchor="end"><text x="876" y="924" transform="rotate(-45 876 924)">SC-NC+IgG</text><text x="900" y="924" transform="rotate(-45 900 924)">SC01711+IgG</text><text x="925" y="924" transform="rotate(-45 925 924)">SC-NC+anti-PD1</text><text x="949" y="924" transform="rotate(-45 949 924)">SC01711+anti-PD1</text></g>
</svg>
</body></html>
